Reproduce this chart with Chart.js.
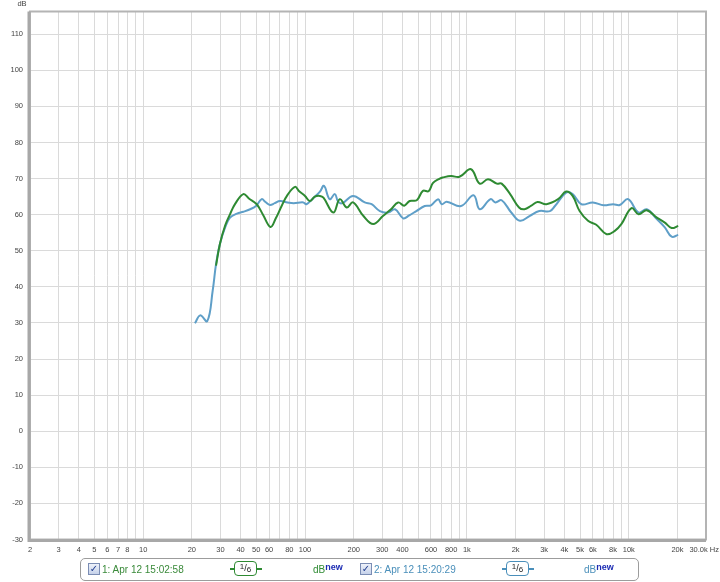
<!DOCTYPE html>
<html>
<head>
<meta charset="utf-8">
<script src="https://cdn.jsdelivr.net/npm/chart.js@4.4.1/dist/chart.umd.min.js"></script>
<style>
  body { margin: 0; background: #fff; }
  #wrap { position: relative; width: 720px; height: 582px; }
  #chart { position: absolute; left: 0; top: 0; }
  #legend {
    position: absolute; left: 80px; top: 558px; width: 559px; height: 23px;
    border: 1px solid #9c9c9c; border-radius: 5px; box-sizing: border-box;
    font: 10px "Liberation Sans", Arial, sans-serif; background: #fff;
  }
  #legend .it { position: absolute; top: 0; line-height: 21px; white-space: nowrap; }
  .chk {
    position: absolute; top: 4px; width: 10px; height: 10px;
    border: 1px solid #7b8db4; background: linear-gradient(#eef2fa, #c6d2ea);
    color: #1d3a8e; font: bold 10px "DejaVu Sans", sans-serif; line-height: 10px; text-align: center;
  }
  .badge { position: absolute; top: 2px; width: 32px; height: 16px; }
  .badge .ln { position: absolute; left: 0; right: 0; top: 7px; height: 1.5px; }
  .badge .bx {
    position: absolute; left: 4px; width: 21px; top: 0; height: 13px; background: #fff;
    border-radius: 4px; border: 1.5px solid; font: 9px "Liberation Sans", Arial, sans-serif;
    line-height: 13px; text-align: center; color: #222; overflow: hidden;
  }
  .badge .n { position: relative; top: -2px; font-size: 8px; }
  .badge .d { position: relative; top: 1px; font-size: 8px; }
  .db { font-size: 10px; }
  .db b { color: #1b2bb3; font-size: 9px; position: relative; top: -3px; font-weight: bold; }
</style>
</head>
<body>
<div id="wrap">
  <canvas id="chart" width="720" height="582"></canvas>
  <div id="legend">
    <span class="chk" style="left:7px">✓</span>
    <span class="it" style="left:21px;color:#3a8a3a">1: Apr 12 15:02:58</span>
    <span class="badge" style="left:149px"><span class="ln" style="background:#2e8a32"></span><span class="bx" style="border-color:#2e8a32"><span class="n">1</span>/<span class="d">6</span></span></span>
    <span class="it db" style="left:232px;color:#2e8a32">dB<b>new</b></span>
    <span class="chk" style="left:279px">✓</span>
    <span class="it" style="left:293px;color:#4a8fba">2: Apr 12 15:20:29</span>
    <span class="badge" style="left:421px"><span class="ln" style="background:#4a8fba"></span><span class="bx" style="border-color:#4a8fba"><span class="n">1</span>/<span class="d">6</span></span></span>
    <span class="it db" style="left:503px;color:#4a8fba">dB<b>new</b></span>
  </div>
</div>
<script>
// measurement 1 (green)
const greenFreq = [28.2, 29.8, 32.1, 34.4, 37, 41.6, 45, 50.3, 55, 61.2, 66, 71.7, 78, 86.8, 92, 100,
  107, 115, 123.7, 130, 149.6, 164, 181, 198, 229, 264, 304, 340, 376, 410, 443, 490, 535, 580, 618,
  680, 708, 800, 900, 1060, 1200, 1350, 1530, 1640, 1850, 2100, 2270, 2500, 2730, 3100, 3660, 4100,
  4500, 4970, 5600, 6300, 7300, 8200, 9000, 10400, 11500, 12900, 14900, 16700, 18400, 20200];
const greenDb = [45.9, 51.9, 57, 60.1, 63, 65.7, 64.5, 62.9, 60, 56.6, 59, 62.4, 65.5, 67.7, 66.5, 65.2,
  63.8, 65, 65.2, 64.7, 60.6, 64.3, 62, 63.4, 59.7, 57.4, 59.7, 61.5, 63.4, 62.5, 63.8, 64, 66.6, 66.5, 68.8,
  70, 70.3, 70.7, 70.5, 72.6, 68.6, 69.8, 68.6, 68.6, 65.7, 62, 61.5, 62.5, 63.5, 62.9, 64.3, 66.4,
  65.2, 61, 58.3, 57.2, 54.6, 55.5, 57.4, 61.8, 60.1, 61.2, 59.2, 57.8, 56.3, 56.9];

// measurement 2 (blue)
const blueFreq = [20.9, 22.5, 24.9, 26.9, 28.2, 29.8, 32.1, 34.4, 38, 41.6, 45.8, 50, 54, 57, 60.7, 65,
  70, 78, 85, 97.7, 102, 112, 123.7, 131, 142, 153, 160, 170, 198, 234, 258, 290, 326, 360, 404, 440,
  487, 549, 600, 664, 700, 750, 920, 1100, 1200, 1400, 1500, 1640, 1880, 2130, 2450, 2800, 3260, 3500,
  4100, 4500, 5100, 6000, 7000, 8000, 8800, 9900, 11500, 12900, 14900, 16700, 18400, 20200];
const blueDb = [29.9, 32.1, 30.5, 39, 46.3, 51.9, 56.5, 59.2, 60.3, 60.8, 61.5, 62.5, 64.3, 63.5, 62.7, 63.2,
  63.8, 63.4, 63.2, 63.4, 62.9, 64.5, 66.4, 68, 64.3, 65.7, 63.6, 63.2, 65.2, 63.4, 62.9, 61, 60.6, 61.5, 59, 59.8,
  61, 62.4, 62.6, 64.3, 62.9, 63.6, 62.4, 65.4, 61.5, 64.3, 63.4, 64, 60.6, 58.3, 59.7, 61, 61, 62.4,
  66.1, 65.7, 62.9, 63.4, 62.6, 62.9, 62.7, 64.3, 60.6, 61.5, 58.8, 56.5, 53.9, 54.4];

const gridFreqs = [];
[1, 10, 100, 1000, 10000].forEach(d => {
  for (let m = 1; m <= 9; m++) {
    const f = m * d;
    if (f >= 2 && f <= 30000) gridFreqs.push(f);
  }
});
gridFreqs.push(30000);

const xLabelFreqs = [2, 3, 4, 5, 6, 7, 8, 10, 20, 30, 40, 50, 60, 80, 100, 200, 300, 400, 600, 800,
  1000, 2000, 3000, 4000, 5000, 6000, 8000, 10000, 20000];
const xLabelText = ['2', '3', '4', '5', '6', '7', '8', '10', '20', '30', '40', '50', '60', '80', '100', '200',
  '300', '400', '600', '800', '1k', '2k', '3k', '4k', '5k', '6k', '8k', '10k', '20k'];
const yTicks = [-30, -20, -10, 0, 10, 20, 30, 40, 50, 60, 70, 80, 90, 100, 110];

const toPoints = (fs, ds) => fs.map((f, i) => ({ x: f, y: ds[i] }));
const tickFont = { family: '"Liberation Sans", Arial, sans-serif', size: 7.5 };

const framePlugin = {
  id: 'frame',
  afterDraw(chart) {
    const { ctx, chartArea: a } = chart;
    ctx.save();
    ctx.strokeStyle = '#b4b4b4';
    ctx.lineWidth = 2;
    ctx.strokeRect(a.left, a.top, a.right - a.left, a.bottom - a.top);
    ctx.strokeStyle = '#a8a8a8';
    ctx.lineWidth = 3;
    ctx.beginPath();
    ctx.moveTo(a.left - 1, a.top);
    ctx.lineTo(a.left - 1, a.bottom + 1);
    ctx.lineTo(a.right, a.bottom + 1);
    ctx.stroke();
    ctx.fillStyle = '#444';
    ctx.font = '7.5px "Liberation Sans", Arial, sans-serif';
    ctx.textBaseline = 'middle';
    ctx.textAlign = 'center';
    ctx.fillText('dB', 22, 4);
    ctx.textAlign = 'right';
    ctx.fillText('30.0k Hz', 719, 550);
    ctx.restore();
  }
};

new Chart(document.getElementById('chart'), {
  type: 'line',
  data: {
    datasets: [
      {
        label: '1: Apr 12 15:02:58',
        data: toPoints(greenFreq, greenDb),
        borderColor: '#2e8a32',
        borderWidth: 2,
        pointRadius: 0,
        tension: 0.4,
        fill: false
      },
      {
        label: '2: Apr 12 15:20:29',
        data: toPoints(blueFreq, blueDb),
        borderColor: '#5f9fc8',
        borderWidth: 2,
        pointRadius: 0,
        tension: 0.4,
        fill: false
      }
    ]
  },
  options: {
    responsive: false,
    animation: false,
    layout: { padding: { top: 10, right: 14, left: 0, bottom: 0 } },
    plugins: { legend: { display: false }, tooltip: { enabled: false } },
    scales: {
      x: {
        type: 'logarithmic',
        min: 2,
        max: 30000,
        afterBuildTicks: s => { s.ticks = gridFreqs.map(v => ({ value: v })); },
        afterFit: s => { s.height = 42.5; },
        grid: { color: '#dadada', lineWidth: 1, drawTicks: false },
        border: { display: false },
        ticks: {
          autoSkip: false,
          maxRotation: 0,
          padding: 6,
          color: '#444',
          font: tickFont,
          callback: v => {
            const i = xLabelFreqs.indexOf(v);
            return i >= 0 ? xLabelText[i] : '';
          }
        }
      },
      y: {
        min: -30,
        max: 116.3,
        afterBuildTicks: s => { s.ticks = yTicks.map(v => ({ value: v })); },
        afterFit: s => { s.width = 30; },
        grid: { color: '#dadada', lineWidth: 1, drawTicks: false },
        border: { display: false },
        ticks: { padding: 7, color: '#444', font: tickFont }
      }
    }
  },
  plugins: [framePlugin]
});
</script>
</body>
</html>
